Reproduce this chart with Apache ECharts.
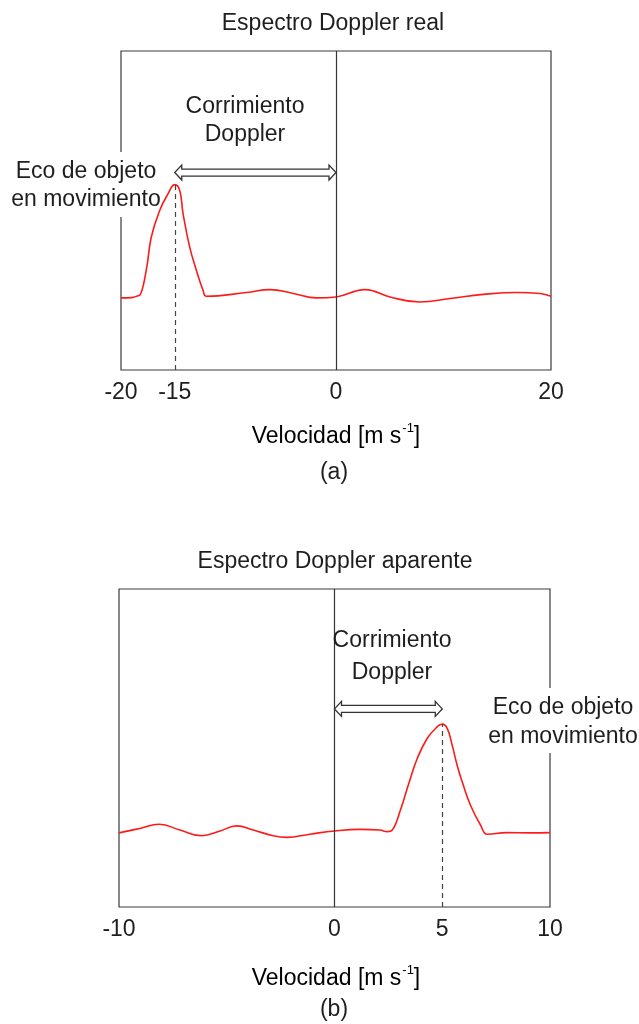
<!DOCTYPE html>
<html>
<head>
<meta charset="utf-8">
<script src="https://cdn.jsdelivr.net/npm/echarts@6/dist/echarts.min.js"></script>
<style>
  html, body { margin: 0; padding: 0; background: #fff; }
  #chart { width: 639px; height: 1024px; }
</style>
</head>
<body>
<div id="chart"></div>
<script>
// (a) Real Doppler spectrum: velocity [m/s] and relative echo power
const velA = [-20, -19.0, -18.42, -18.26, -17.65, -17.18, -16.4, -15.63, -15.0, -14.54, -14.23, -13.61, -12.99, -12.37, -12.06, -8.31, -6.14, -3.97, -1.8, 0, 2.7, 5.02, 7.81, 10.6, 13.7, 16.81, 18.98, 20];
const powA = [2.26, 2.27, 2.33, 2.34, 3.13, 4.17, 5.0, 5.52, 5.81, 5.63, 4.91, 3.85, 3.13, 2.5, 2.31, 2.43, 2.52, 2.40, 2.26, 2.29, 2.52, 2.29, 2.13, 2.24, 2.37, 2.43, 2.40, 2.31];
const ticksA = [-20, -15, 0, 20];
const peakA = -15;

// (b) Apparent (aliased) Doppler spectrum
const velB = [-10, -9.03, -8.13, -7.17, -6.16, -5.31, -4.54, -3.77, -2.84, -2.22, -1.14, 0, 1.18, 2.11, 2.45, 2.68, 3.06, 3.45, 3.84, 4.30, 4.77, 5.0, 5.23, 5.46, 5.69, 5.93, 6.31, 6.78, 7.09, 7.99, 9.07, 10];
const powB = [2.33, 2.47, 2.60, 2.42, 2.24, 2.39, 2.55, 2.42, 2.24, 2.19, 2.29, 2.39, 2.44, 2.42, 2.37, 2.42, 3.05, 3.89, 4.67, 5.30, 5.67, 5.75, 5.62, 5.09, 4.46, 3.93, 3.20, 2.57, 2.29, 2.34, 2.33, 2.34];
const ticksB = [-10, 0, 5, 10];
const peakB = 5;

const FONT = '"Liberation Sans", Arial, sans-serif';
const INK = '#1e1e1e';
const RED = '#ff1a1a';

const zip = (xs, ys) => xs.map((x, i) => [x, ys[i]]);
const peakValue = (xs, ys, x) => ys[xs.indexOf(x)];

function xAxisFor(idx, lo, hi, ticks) {
  return {
    type: 'value', gridIndex: idx, min: lo, max: hi,
    axisLine: { show: false }, axisTick: { show: false }, splitLine: { show: false },
    axisLabel: {
      customValues: ticks, fontSize: 23, color: INK, fontFamily: FONT,
      margin: 11, showMinLabel: true, showMaxLabel: true, hideOverlap: false
    }
  };
}
function yAxisFor(idx) {
  return { type: 'value', gridIndex: idx, min: 0, max: 10, show: false, splitLine: { show: false } };
}

function spectrum(idx, xs, ys, peak) {
  const top = peakValue(xs, ys, peak);
  return {
    type: 'line', xAxisIndex: idx, yAxisIndex: idx,
    data: zip(xs, ys), showSymbol: false, smooth: 0.45, sampling: null,
    lineStyle: { color: RED, width: 1.6 }, z: 3, silent: true,
    markLine: {
      silent: true, symbol: ['none', 'none'], label: { show: false },
      data: [
        { xAxis: 0, lineStyle: { color: '#333', width: 1.2, type: 'solid' } },
        [
          { coord: [peak, 0], lineStyle: { color: '#444', width: 1.2, type: [5, 4] } },
          { coord: [peak, top] }
        ]
      ]
    }
  };
}

// Hollow double-headed arrow spanning the Doppler shift
function shiftArrow(idx, from, to, level) {
  return {
    type: 'custom', xAxisIndex: idx, yAxisIndex: idx, silent: true, z: 6,
    data: [[from, level, to]],
    renderItem: (params, api) => {
      const a = api.coord([api.value(0), api.value(1)]);
      const b = api.coord([api.value(2), api.value(1)]);
      const y = a[1];
      const L = Math.min(a[0], b[0]), R = Math.max(a[0], b[0]);
      const hs = 3.5, hh = 7.5, hl = 7;
      const pts = [
        [L, y], [L + hl, y - hh], [L + hl, y - hs], [R - hl, y - hs], [R - hl, y - hh],
        [R, y], [R - hl, y + hh], [R - hl, y + hs], [L + hl, y + hs], [L + hl, y + hh]
      ];
      return { type: 'polygon', shape: { points: pts }, style: { fill: '#fff', stroke: '#333', lineWidth: 1.3 } };
    }
  };
}

function label(text, x, y, size) {
  return {
    type: 'text', x: x, y: y, z: 100, silent: true,
    style: { text: text, fill: INK, font: (size || 23) + 'px ' + FONT, align: 'center', verticalAlign: 'middle' }
  };
}
function axisName(x, y) {
  return {
    type: 'text', x: x, y: y, z: 100, silent: true,
    style: {
      text: '{n|Velocidad [m s}{s|-1}{n|]}', align: 'center', verticalAlign: 'middle',
      rich: {
        n: { fontSize: 23, fontFamily: FONT, color: INK, lineHeight: 26, verticalAlign: 'bottom' },
        s: { fontSize: 13, fontFamily: FONT, color: INK, lineHeight: 26, verticalAlign: 'top', padding: [0, 0, 0, 1] }
      }
    }
  };
}
// White backing that breaks the frame behind the side labels (kept below the curves)
function mask(x, y, w, h) {
  return { type: 'rect', z: 1, silent: true, shape: { x: x, y: y, width: w, height: h }, style: { fill: '#fff' } };
}

const chart = echarts.init(document.getElementById('chart'), null, { renderer: 'canvas' });
chart.setOption({
  backgroundColor: '#fff',
  animation: false,
  grid: [
    { left: 121, top: 51, width: 430, height: 319, show: true, borderColor: '#3a3a3a', borderWidth: 1.2, containLabel: false },
    { left: 119, top: 589, width: 431, height: 318, show: true, borderColor: '#3a3a3a', borderWidth: 1.2, containLabel: false }
  ],
  xAxis: [xAxisFor(0, -20, 20, ticksA), xAxisFor(1, -10, 10, ticksB)],
  yAxis: [yAxisFor(0), yAxisFor(1)],
  series: [
    spectrum(0, velA, powA, peakA),
    shiftArrow(0, peakA, 0, 6.19),
    spectrum(1, velB, powB, peakB),
    shiftArrow(1, 0, peakB, 6.23)
  ],
  graphic: {
    elements: [
      label('Espectro Doppler real', 333, 24),
      label('Corrimiento', 245, 107),
      label('Doppler', 245, 135),
      mask(6, 152, 160, 65),
      label('Eco de objeto', 86, 172),
      label('en movimiento', 86, 200),
      axisName(336, 435),
      label('(a)', 334, 473),

      label('Espectro Doppler aparente', 335, 562),
      label('Corrimiento', 392, 641),
      label('Doppler', 392, 673),
      mask(486, 688, 153, 65),
      label('Eco de objeto', 563, 708),
      label('en movimiento', 563, 737),
      axisName(336, 977),
      label('(b)', 334, 1010)
    ]
  }
});
</script>
</body>
</html>
